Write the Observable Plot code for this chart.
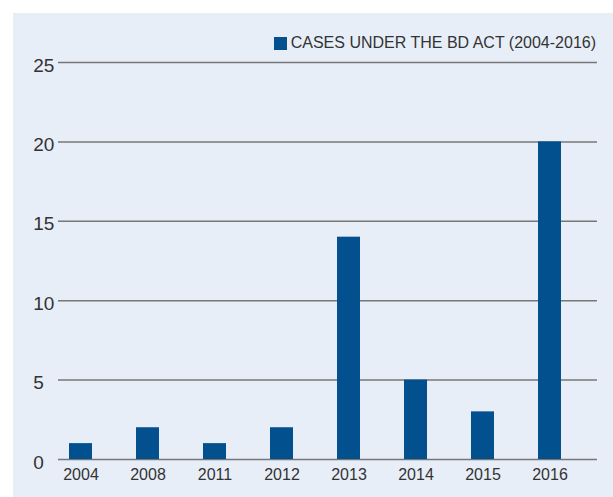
<!DOCTYPE html>
<html>
<head>
<meta charset="utf-8">
<script src="https://cdn.jsdelivr.net/npm/d3@7"></script>
<script src="https://cdn.jsdelivr.net/npm/@observablehq/plot@0.6"></script>
<style>
  html, body { margin: 0; padding: 0; background: #ffffff; }
  #wrap {
    position: absolute; left: 13px; top: 13px; width: 600px; height: 484px;
    background: #e7eef8; font-family: "Liberation Sans", Arial, sans-serif;
  }
  #legend {
    position: absolute; right: 17px; top: 21px; display: flex; align-items: center;
    font-size: 16px; color: #333333; white-space: nowrap;
  }
  #legend .sw { width: 13px; height: 13px; background: #02518e; margin-right: 4px; }
  #chart { position: absolute; left: 0; top: 0; }
</style>
</head>
<body>
<div id="wrap">
  <div id="chart"></div>
  <div id="legend"><span class="sw"></span><span id="legendText"></span></div>
</div>
<script>
const years = ["2004", "2008", "2011", "2012", "2013", "2014", "2015", "2016"];
const cases = [1, 2, 1, 2, 14, 5, 3, 20];
const yTicks = [0, 5, 10, 15, 20, 25];
const seriesName = "CASES UNDER THE BD ACT (2004-2016)";

document.getElementById("legendText").textContent = seriesName;
const data = years.map((y, i) => ({year: y, value: cases[i]}));

const chart = Plot.plot({
  width: 600,
  height: 484,
  marginTop: 49,
  marginBottom: 38,
  marginLeft: 45,
  marginRight: 16,
  style: {background: "transparent", fontFamily: "'Liberation Sans', Arial, sans-serif", color: "#333333"},
  x: {domain: years, range: [33.4, 570.6], paddingInner: 0.657, paddingOuter: 0.3285, label: null},
  y: {domain: [0, 25], label: null},
  marks: [
    Plot.ruleY(yTicks, {stroke: "#777777", strokeWidth: 1.5}),
    Plot.barY(data, {x: "year", y: "value", fill: "#02518e"}),
    Plot.axisY(yTicks, {tickSize: 0, tickPadding: 0, textAnchor: "start", dx: -25.3, dy: 3, fontSize: 19, fill: "#333333", label: null}),
    Plot.axisX({tickSize: 0, tickPadding: 9, fontSize: 16, fill: "#333333", label: null})
  ]
});
document.getElementById("chart").appendChild(chart);
</script>
</body>
</html>
